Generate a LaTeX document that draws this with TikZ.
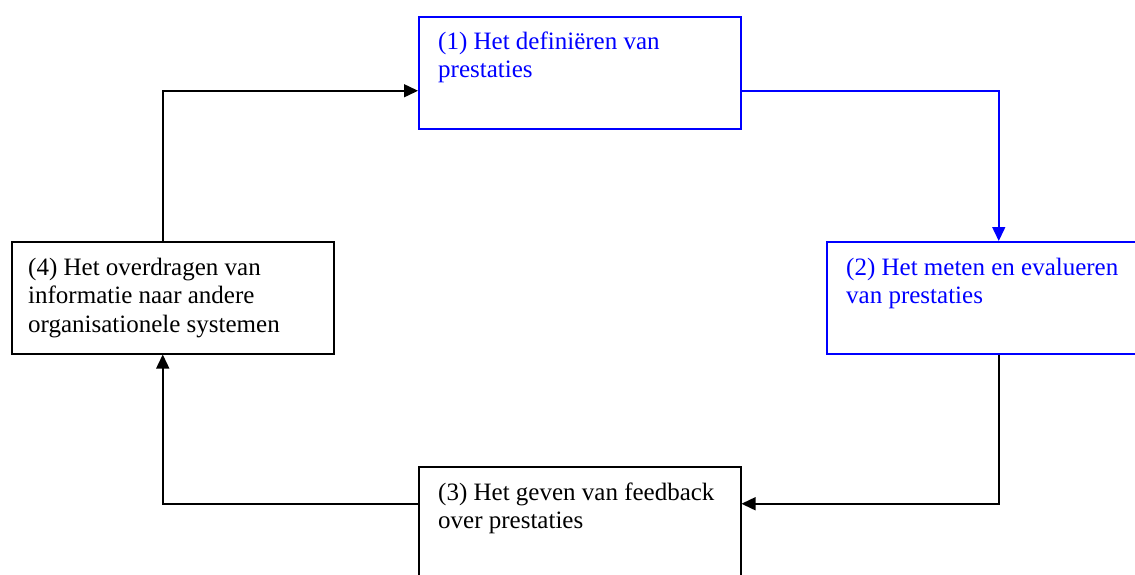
\documentclass[tikz,border=0pt]{standalone}
\usepackage{fontspec}
\setmainfont{Liberation Serif}
\usetikzlibrary{arrows.meta}
\definecolor{wblue}{RGB}{0,0,255}
\tikzset{
  box/.style={draw, line width=1.5pt, minimum width=322pt, minimum height=112pt, inner sep=0pt, anchor=north west},
  lbl/.style={anchor=base west, align=left, inner sep=0pt, font=\fontsize{25}{28.75}\selectfont},
  conn/.style={line width=1.5pt, -{Triangle[length=14pt,width=13pt]}}
}
\begin{document}
\begin{tikzpicture}[x=1pt,y=-1pt]
\useasboundingbox (0,0) rectangle (1135,574);
\clip (0,0) rectangle (1135,574);
\node[box, draw=wblue] (b1) at (418,16) {};
\node[box, draw=wblue] (b2) at (826,241) {};
\node[box] (b3) at (418,466) {};
\node[box] (b4) at (11,241) {};
\node[lbl, text=wblue] (t1) at (438,77.75) {(1) Het definiëren van\\prestaties};
\node[lbl, text=wblue] (t2) at (846,303.75) {(2) Het meten en evalueren\\van prestaties};
\node[lbl] (t3) at (438,528.75) {(3) Het geven van feedback\\over prestaties};
\node[lbl] (t4) at (28,332.5) {(4) Het overdragen van\\informatie naar andere\\organisationele systemen};
\draw[conn, wblue] ([yshift=-18pt]b1.east) -| ([xshift=11pt]b2.north);
\draw[conn] ([xshift=11pt]b2.south) |- ([yshift=19pt]b3.east);
\draw[conn] ([yshift=19pt]b3.west) -| ([xshift=-10pt]b4.south);
\draw[conn] ([xshift=-10pt]b4.north) |- ([yshift=-18pt]b1.west);
\end{tikzpicture}
\end{document}
